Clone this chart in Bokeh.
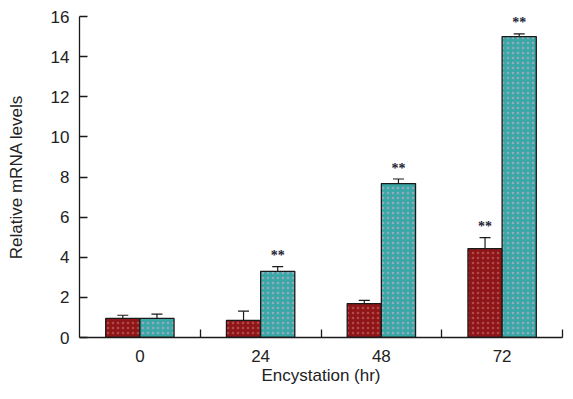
import numpy as np
from bokeh.plotting import figure
from bokeh.models import ColumnDataSource, Range1d, FixedTicker, Whisker, TeeHead, LabelSet
from bokeh.embed import file_html
from bokeh.resources import INLINE

# ---- data ----
categories = ["0", "24", "48", "72"]
red_values = [0.95, 0.85, 1.69, 4.43]
red_errors = [0.16, 0.46, 0.16, 0.55]
red_marks = ["", "", "", "**"]
teal_values = [0.95, 3.30, 7.67, 15.0]
teal_errors = [0.22, 0.23, 0.23, 0.13]
teal_marks = ["", "**", "**", "**"]
y_ticks = [0, 2, 4, 6, 8, 10, 12, 14, 16]

FONT = "Liberation Sans"
BAR_W = 0.283

centers = np.arange(len(categories)) + 0.5
separators = list(np.arange(1, len(categories) + 1).astype(float))

p = figure(width=570, height=390, output_backend="svg", toolbar_location=None,
           x_range=Range1d(0, len(categories)), y_range=Range1d(0, 16),
           min_border_left=79, min_border_right=8, min_border_top=16, min_border_bottom=53)
p.outline_line_color = None
p.xgrid.visible = False
p.ygrid.visible = False
p.background_fill_color = "white"


def add_series(vals, errs, marks, offset, fill, dots):
    vals = np.array(vals)
    errs = np.array(errs)
    src = ColumnDataSource(dict(x=centers + offset, top=vals, upper=vals + errs, mark=marks))
    p.vbar(x="x", top="top", bottom=0, width=BAR_W, source=src,
           fill_color=fill, line_color="#1a1a1a", line_width=1.3,
           hatch_pattern="dot", hatch_color=dots, hatch_scale=5, hatch_weight=0.9, hatch_alpha=0.6)
    w = Whisker(source=src, base="x", upper="upper", lower="top", dimension="height",
                upper_head=TeeHead(size=11, line_width=1.2, line_color="#1a1a1a"),
                lower_head=None, line_width=1.2, line_color="#1a1a1a")
    p.add_layout(w)
    labels = LabelSet(x="x", y="upper", text="mark", source=src, text_align="center",
                      text_baseline="middle", y_offset=11, text_font=FONT,
                      text_font_size="14px", text_font_style="bold", text_color="#222233")
    p.add_layout(labels)


add_series(red_values, red_errors, red_marks, -BAR_W / 2, "#8e1618", "#c86a6a")
add_series(teal_values, teal_errors, teal_marks, BAR_W / 2, "#39a8a6", "#d7a6c6")

# x axis: labels at category centres, separator ticks between groups
p.xaxis.ticker = FixedTicker(ticks=list(centers), minor_ticks=separators)
p.xaxis.major_label_overrides = {float(c): lab for c, lab in zip(centers, categories)}
p.xaxis.major_tick_in = 0
p.xaxis.major_tick_out = 0
p.xaxis.minor_tick_in = 8
p.xaxis.minor_tick_out = 0
p.xaxis.minor_tick_line_color = "#1a1a1a"
p.xaxis.minor_tick_line_width = 1.3
p.xaxis.axis_label = "Encystation (hr)"
p.xaxis.major_label_standoff = 12
p.xaxis.axis_label_standoff = 1

# y axis
p.yaxis.ticker = FixedTicker(ticks=y_ticks)
p.yaxis.major_tick_in = 8
p.yaxis.major_tick_out = 0
p.yaxis.minor_tick_line_color = None
p.yaxis.axis_label = "Relative mRNA levels"
p.yaxis.major_label_standoff = 10
p.yaxis.axis_label_standoff = 22

for ax in (p.xaxis, p.yaxis):
    ax.axis_line_color = "#1a1a1a"
    ax.axis_line_width = 1.3
    ax.major_tick_line_color = "#1a1a1a"
    ax.major_tick_line_width = 1.3
    ax.major_label_text_font = FONT
    ax.major_label_text_font_size = "17px"
    ax.major_label_text_color = "#222222"
    ax.axis_label_text_font = FONT
    ax.axis_label_text_font_size = "17px"
    ax.axis_label_text_font_style = "normal"
    ax.axis_label_text_color = "#222222"

open("out.html", "w").write(file_html(p, INLINE))
